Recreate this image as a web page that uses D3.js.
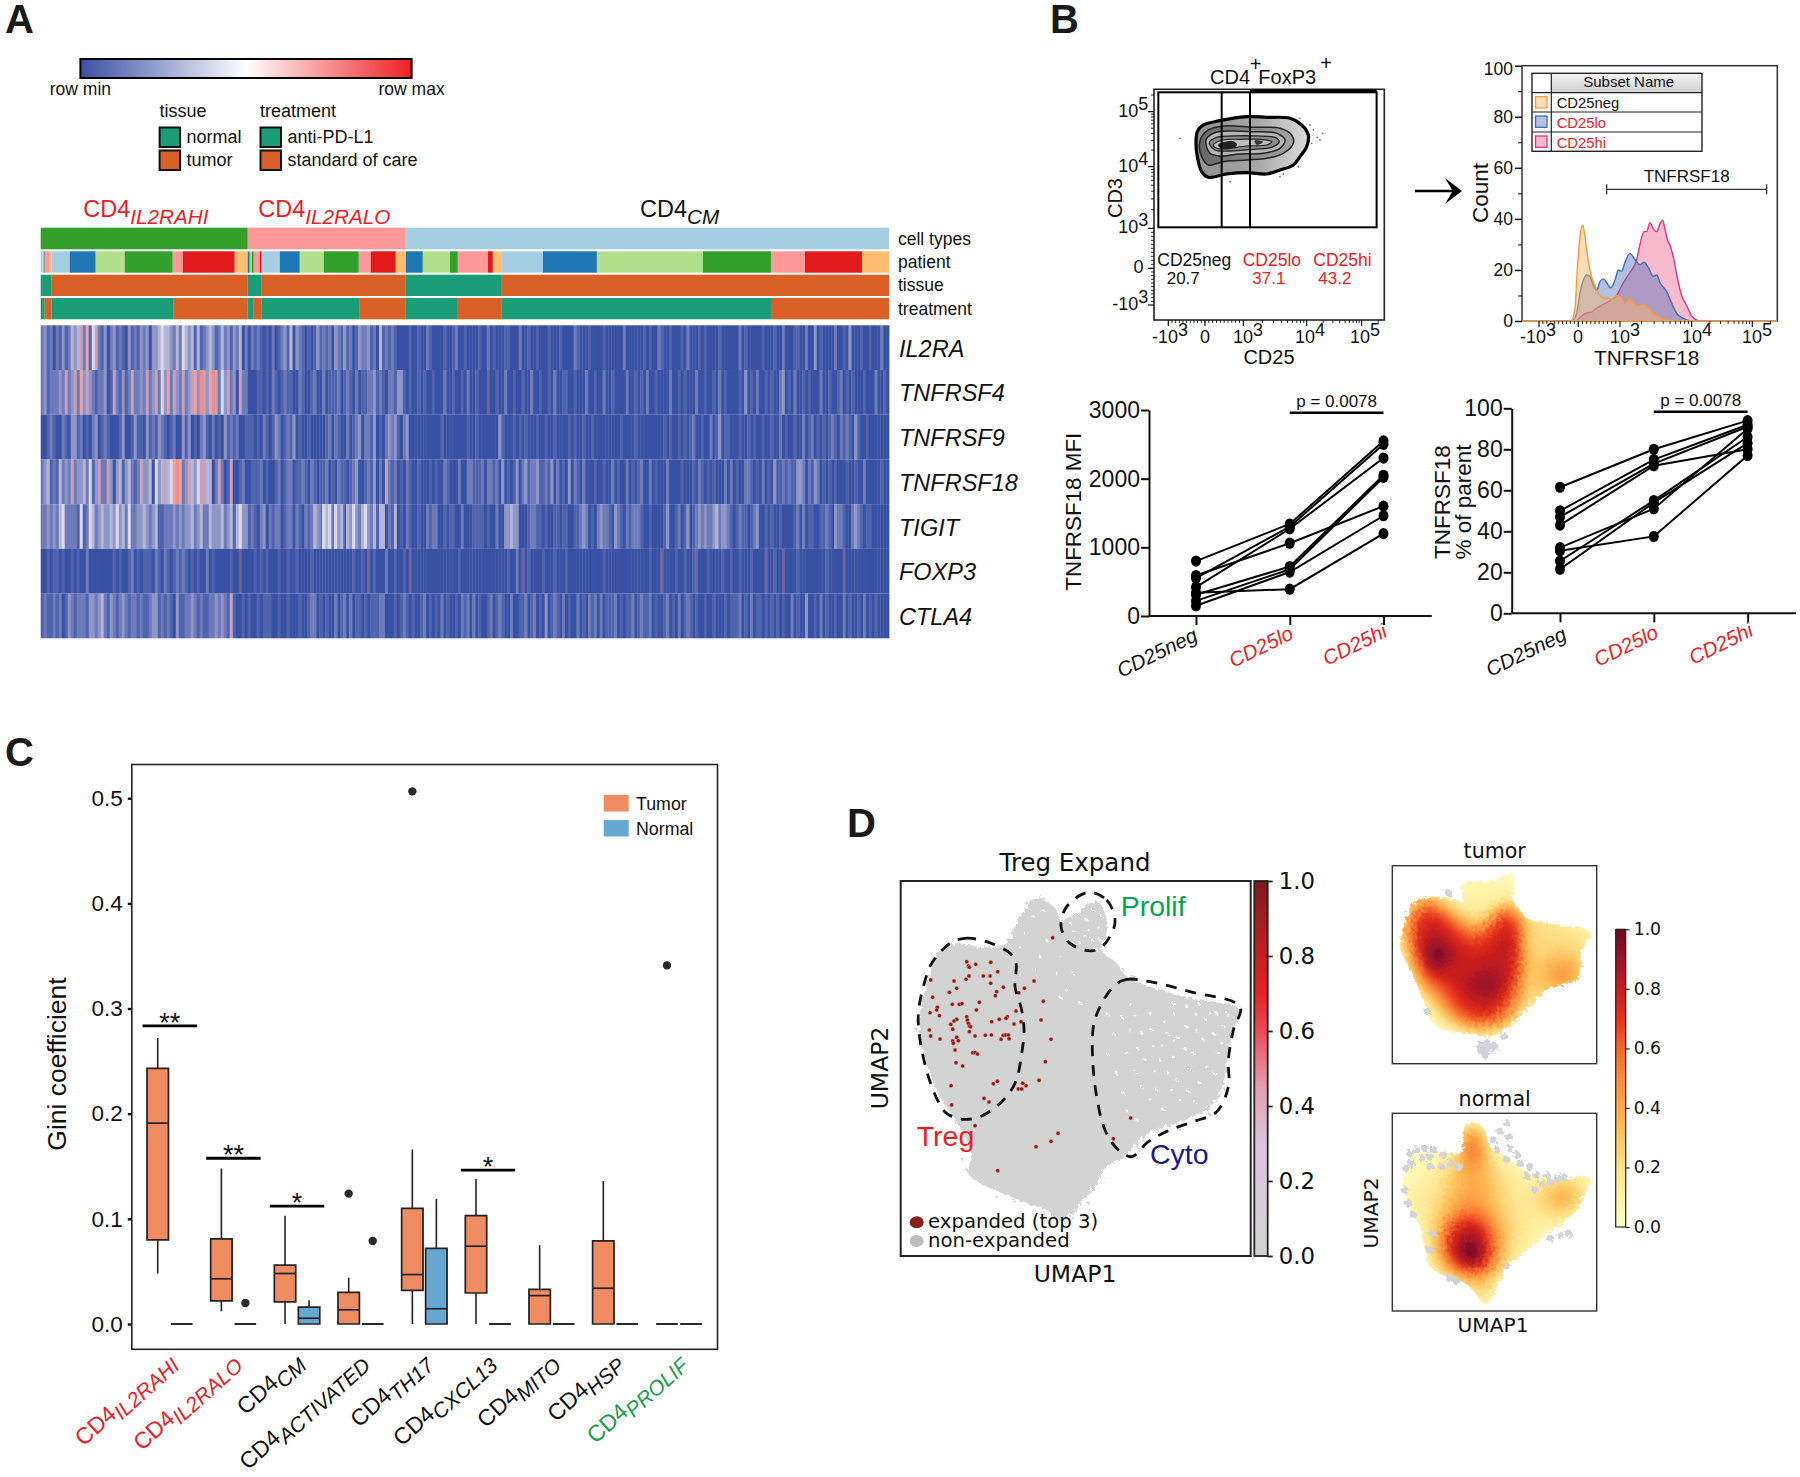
<!DOCTYPE html>
<html><head><meta charset="utf-8">
<script src="https://cdn.jsdelivr.net/npm/d3@7"></script>
<style>html,body{margin:0;background:#fff}text{font-family:"Liberation Sans",Arial,sans-serif;fill:#111}.dj{font-family:"DejaVu Sans",sans-serif}</style>
</head><body><svg id="c" width="1800" height="1477" xmlns="http://www.w3.org/2000/svg"></svg>
<script>
// ---------- Panel A data ----------
const PAIRED={lb:'#a6cee3',bl:'#1f78b4',lg:'#b2df8a',gr:'#33a02c',pk:'#fb9a99',rd:'#e31a1c',or:'#fdbf6f',yg:'#d9d96a'};
const cellTypeNames=['gr','pk','lb'];
const cellTypeCounts=[207,158,483];
const patientNames=['lb','yg','bl','pk','or','lb','bl','lg','gr','pk','rd','or','bl','lg','gr','pk','rd','lb','bl','lg','gr','pk','rd','or','bl','lg','gr','pk','rd','or','lb','bl','lg','gr','pk','rd','or'];
const patientCounts=[2,1,1,5,2,18,26,29,48,10,52,13,2,2,2,6,2,18,20,24,35,12,25,10,17,27,8,30,5,9,41,54,106,68,34,57,27];
const tissueNames=['n','t','n','t','n','t'];
const tissueCounts=[11,196,14,144,96,387];
const treatNames=['n','t','n','t','n','t','n','t','n','t','n','t'];
const treatCounts=[4,7,122,74,6,8,98,46,52,44,269,118];
const genes=['IL2RA','TNFRSF4','TNFRSF9','TNFRSF18','TIGIT','FOXP3','CTLA4'];
const heatHI=[
"231202131243462715621302312103121323033454432425434141234312423132402",
"231222326236273632122301621312622326236253726326236738637862536230622",
"001210021033120102301210001300131103121321012003130102310201031212001",
"234121423262334251362263034134212633405346457872364356644026201600120",
"223232452222151254234334353425223343234112223232334234224333423414533",
"001011010010100200000000101001201011102102101212101010020100000100900",
"121121201321222133234213212321221211233121210311223212112232321610010"];
const heatLO=[
"02121010201231403210101312120321312013223120412121000",
"00011010210121100210012002011120121020112231210221331",
"11010210132012130100100000120210020123022130102323102",
"01112010012012201121021011201021101230012130206212010",
"12102302122012202102124325452534143532453241440214010",
"00101010001001001000010000000000000100109010002001001",
"10010111001001000100122010100201202011010111220001012"];
const heatCM=[
"01001002100001001200100001002010001100020010010001000100002100010000100000020000001010021001000102000101000010000002010000010001002000110020030100002001030001001000200",
"01001010010002001001020010009001002001001002001001020011001000200100200100002001010200100002001010002001001020100001030102001010023010200101000200100120101000100020010",
"30000000000010000000010010000000310001010100010010010000101001001000000000100001000000000101001010120010020130110001001010010010020100100201201010121021210310010000000",
"21001000101002100020022111202212030101302312231121302010302102000100100201002010120020100020000100010210101000202010022101020103112121133202132010101000100100200000100",
"21001002122001011002000111101002003343300012211010011011001123201023221032102122210010000130012013012323223423321012110123001010010000120201100112103221002321011000000",
"09000000000000000010000000000000000100209010000100010001000000000000100000000000000010009000010010019000100001001001000100009001009000010000000001000009000000000000000",
"10100120101020100102120201001201210020011201201030121020100201021202011120101120121120100120102012101001001000101112010201101010101002010030010201001002010010201010000"];
const heatDigitColors=['#3951a3','#5063ad','#6d7bba','#8e96c8','#b2b6d7','#dbdaea','#c8a0ba','#e7a3a8','#f58b82','#6f63a6'];
const colorbarColors=['#3b4fa3','#ffffff','#ee2024'];

// ---------- Panel B data (flow) ----------
const flowTickVals=[-1e3,0,1e3,1e4,1e5];
const flowXChan=[265,375,490,680,845];   // channel of each decade, CD25
const flowYChan=[765,655,535,350,185];   // channel of each decade, CD3
const flowGateRect=[235,890,127,532];
const flowGateLines=[425,510];
const contourOuter=[[352,245],[370,225],[420,212],[500,200],[560,202],[630,205],[665,225],[685,255],[680,290],[660,320],[640,345],[600,360],[560,372],[500,368],[440,372],[385,382],[365,365],[352,320],[348,280]];
const contour2=[[365,260],[385,240],[430,228],[520,232],[600,235],[635,255],[640,280],[610,310],[560,325],[500,330],[430,335],[385,345],[365,320],[358,285]];
const contour3=[[378,270],[400,250],[450,243],[520,245],[590,250],[615,270],[600,295],[550,310],[480,312],[420,318],[390,310]];
const contour4=[[388,278],[410,262],[460,258],[530,258],[585,262],[598,275],[575,292],[520,298],[450,303],[405,300]];
const contour5=[[400,285],[430,270],[480,268],[540,268],[575,275],[560,285],[500,288],[440,296],[410,295]];
const contourCore1=[[415,285],[460,275],[470,285],[450,295],[425,295]];
const contourCore2=[[525,273],[548,276],[530,283]];
const flowStray=[[690,225],[700,240],[712,262],[728,250],[695,280],[720,270],[600,380],[610,372],[450,395],[660,205],[375,658],[655,350],[300,265]];
// histograms: channel, count
const histNeg=[[395,0],[405,5],[412,20],[420,33],[428,37.6],[435,33],[442,26],[450,20],[458,16],[468,13],[480,10],[490,9],[500,9],[515,8.5],[530,10],[545,9],[555,7],[570,9],[580,7],[595,6],[610,6.5],[625,5],[640,3],[660,1.5],[680,.5],[700,0]];
const histLo=[[398,0],[410,3],[420,11],[430,16],[440,18],[450,17.5],[460,14],[470,12],[480,15.5],[490,16.5],[500,15],[512,13],[525,16],[535,20],[545,19.5],[555,23],[570,26.5],[585,24],[600,22],[612,23],[625,21],[640,17.5],[650,18],[660,15],[680,11.5],[695,7],[710,3],[730,1],[750,0]];
const histHi=[[410,0],[425,2],[440,3.2],[455,3.5],[470,5],[490,6.5],[510,8],[530,10],[550,15],[570,19],[590,24],[600,30],[612,35],[620,35],[630,38.5],[640,36],[650,35],[660,38],[668,39.5],[675,36],[682,32],[692,29],[700,25],[712,17],[725,10],[740,6],[755,2],[775,0]];
const histXChan=[297,415,540,755,937];
const subsetNames=['CD25neg','CD25lo','CD25hi'];
const subsetColors=['#f59a3c','#3f6fb5','#e8317e'];
const subsetFills=['rgba(250,180,100,.45)','rgba(85,115,190,.45)','rgba(240,90,135,.42)'];
// paired
const pairCats=['CD25neg','CD25lo','CD25hi'];
const mfiNeg=[800,590,550,420,340,310,220,150];
const mfiLo=[1340,1060,1300,1270,390,720,680,640];
const mfiHi=[2550,1600,2500,2300,1200,2050,2020,1460];
const pctNeg=[61.5,50,47,43,32,30.5,25.5,21.5];
const pctLo=[80,75,73,72,51,37.5,55,54];
const pctHi=[94,92,91,80,90,77,86,83];

// ---------- Panel C data ----------
const boxCats=[['CD4','IL2RAHI','r'],['CD4','IL2RALO','r'],['CD4','CM','k'],['CD4','ACTIVATED','k'],['CD4','TH17','k'],['CD4','CXCL13','k'],['CD4','MITO','k'],['CD4','HSP','k'],['CD4','PROLIF','g']];
const boxGroups=['Tumor','Normal'];
// [lo whisker, q1, median, q3, hi whisker]
const tumorStats=[[.048,.080,.191,.243,.272],[.012,.022,.043,.081,.148],[0,.021,.048,.056,.103],[0,0,.0135,.030,.044],[0,.032,.047,.110,.166],[0,.0295,.074,.103,.138],[0,0,.027,.033,.075],[0,0,.034,.079,.136],[0,0,0,0,0]];
const normalStats=[[0,0,0,0,0],[0,0,0,0,0],[0,0,.0055,.016,.0225],[0,0,0,0,0],[0,0,.0145,.072,.119],[0,0,0,0,0],[0,0,0,0,0],[0,0,0,0,0],[0,0,0,0,0]];
const outliers=[[1,'Normal',.020],[3,'Tumor',.124],[3,'Normal',.079],[4,'Tumor',.5065],[8,'Tumor',.341]];
const sigBars=[[0,.2835,'**'],[1,.1576,'**'],[2,.112,'*'],[5,.1463,'*']];
const giniTicks=[0,.1,.2,.3,.4,.5];

// ---------- Panel D data ----------
const umapCloud=[[585,295],[620,305],[650,330],[665,365],[700,345],[770,305],[795,340],[800,400],[780,445],[830,490],[860,530],[930,560],[1050,595],[1190,620],[1200,635],[1175,700],[1160,800],[1140,880],[1100,930],[1000,970],[930,1000],[880,1040],[850,1070],[790,1110],[770,1150],[730,1200],[690,1245],[660,1260],[620,1230],[560,1210],[490,1180],[420,1150],[385,1120],[395,1070],[370,1000],[340,950],[300,890],[270,820],[250,760],[240,700],[240,640],[255,570],[270,520],[300,450],[350,430],[420,440],[500,430],[530,370]];
const umapGaps=[[870,690],[905,700],[965,735],[960,780],[1000,770],[1050,810],[1090,720],[1110,640],[1040,680],[1000,640],[930,640],[870,610],[1135,760],[1080,850],[1020,900],[950,870],[890,820],[860,760],[930,900],[1060,760],[980,700],[1150,680],[1160,640],[1040,620],[820,700],[800,640],[850,880],[680,570],[650,520],[600,470],[555,400],[740,360],[735,410],[660,590],[720,610],[770,450],[1100,660],[985,820],[1125,820],[915,780],[1010,840],[940,740],
[715,340],[760,330],[775,380],[700,395],[720,430],[755,420],[690,370],[745,390],[785,350],[780,420],[845,650],[885,645],[895,745],[935,690],[945,815],[975,665],[1015,715],[1035,745],[1070,690],[1120,700],[1065,640],[1145,730],[1100,800],[1045,875],[995,870],[905,860],[860,930],[890,960],[970,930],[1000,610],[1075,610],[1130,640],[830,820],[800,760],[1000,720],[1065,905],[580,350],[610,330],[540,440],[620,420],[590,510],[660,470],[700,520]];
const umapStray=[[545,370],[525,395],[560,310],[610,295],[505,420],[815,505],[850,510],[880,530],[1205,630],[1180,660],[1165,760],[1155,870],[1110,945],[1015,985],[900,1050],[870,1065],[800,1135],[745,1210],[700,1255],[640,1250],[520,1200],[470,1190],[380,1110],[365,1075],[230,690],[235,665],[245,600],[290,900],[345,965]];
const umapExpanded=[[638,413],[380,485],[407,493],[452,487],[385,498],[388,502],[473,515],[272,540],[342,543],[387,528],[378,538],[430,528],[450,528],[582,543],[452,550],[350,565],[490,562],[553,565],[536,578],[328,577],[470,575],[466,587],[278,592],[610,604],[418,607],[337,613],[358,613],[366,611],[292,622],[290,630],[409,630],[270,638],[298,647],[528,633],[502,650],[498,655],[380,650],[382,660],[350,658],[342,663],[478,658],[455,665],[603,660],[543,665],[522,672],[332,673],[338,688],[385,670],[388,678],[392,680],[388,695],[268,690],[272,708],[300,717],[350,712],[338,723],[355,722],[340,730],[405,708],[436,706],[454,705],[490,706],[497,705],[505,705],[483,718],[507,716],[633,718],[345,750],[398,758],[405,758],[412,762],[348,788],[368,798],[616,785],[597,841],[472,844],[460,851],[548,850],[558,857],[535,867],[545,867],[333,857],[432,895],[447,906],[335,915],[405,977],[872,954],[654,1000],[633,1024],[588,1040],[820,1016],[473,1112]];
const tregOutline=[[330,430],[375,415],[440,425],[510,460],[528,490],[525,560],[545,630],[552,690],[545,760],[525,850],[480,910],[420,950],[370,958],[320,940],[295,905],[265,830],[240,720],[235,640],[250,560],[275,490]];
const prolifOutline=[[745,277],[800,300],[825,360],[815,400],[780,445],[745,452],[690,430],[663,380],[680,320]];
const cytoOutline=[[825,555],[860,538],[930,545],[1050,575],[1200,620],[1180,690],[1165,780],[1165,860],[1130,935],[1060,965],[990,990],[925,1025],[875,1070],[835,1050],[795,990],[770,890],[758,780],[760,680],[780,620]];
const expandColors=[[0,'#d3d3d3'],[.15,'#d6cdd8'],[.3,'#dbc4dc'],[.45,'#e59fb0'],[.6,'#ec4a57'],[.7,'#ea2028'],[.85,'#b21f24'],[1,'#7e1a1f']];
const densColors=[[0,'#ffffc8'],[.1,'#fff3a8'],[.2,'#fee28b'],[.3,'#fec762'],[.4,'#fdab49'],[.5,'#fb8c3c'],[.6,'#f5682c'],[.7,'#e7301f'],[.8,'#c41d1f'],[.9,'#99142a'],[1,'#680b22']];
const colorTicks=[0,.2,.4,.6,.8,1];
const tumorShape=[[340,190],[420,185],[490,160],[490,240],[510,270],[530,295],[600,310],[720,335],[720,355],[695,385],[695,440],[680,480],[600,505],[570,530],[530,570],[490,610],[460,630],[420,650],[350,640],[280,630],[240,600],[230,570],[215,530],[195,480],[170,430],[150,380],[165,300],[190,250],[240,230],[290,235],[335,240]];
const tumorGrayDots=[[390,675],[405,672],[422,672],[434,680],[405,690],[392,690],[415,688],[405,705],[295,220],[232,575],[462,648]];
const normalShape=[[345,915],[375,905],[405,930],[420,980],[470,1010],[520,1050],[600,1080],[720,1075],[700,1130],[680,1170],[640,1210],[590,1240],[560,1270],[520,1300],[470,1340],[445,1390],[425,1440],[405,1455],[385,1430],[345,1390],[290,1370],[240,1340],[225,1290],[210,1220],[180,1170],[160,1110],[170,1050],[190,1000],[250,990],[330,1000],[340,960]];
const normalGrayDots=[[180,1000],[200,990],[225,985],[250,990],[240,1010],[215,1015],[185,1030],[170,1045],[280,1005],[300,1030],[275,1040],[240,1040],[325,1040],[165,1110],[175,1150],[190,1185],[470,910],[450,935],[430,960],[475,950],[440,990],[480,985],[500,1005],[470,1020],[510,1030],[540,1040],[530,1070],[560,1065],[575,1090],[555,1110],[600,1085],[625,1075],[590,1065],[640,1070],[655,1240],[630,1245],[600,1255],[250,1240],[240,1290],[300,1375],[320,1385],[470,1340]];
const tumorDensity=[
[0,0,0,0,0,0,0,0,0,0,0,0,0,0,0,0,0,0,0],
[0,0,0,0,0,0,5,8,8,8,8,0,0,0,0,0,0,0,0],
[0,0,0,5,5,5,8,10,10,10,10,5,0,0,0,0,0,0,0],
[0,0,25,40,30,15,12,12,12,12,15,15,5,0,0,0,0,0,0],
[0,20,50,65,60,40,20,15,15,35,55,35,10,5,0,0,0,0,0],
[0,30,65,75,75,65,45,30,35,60,72,60,25,20,18,15,12,10,0],
[5,35,68,80,82,75,65,55,60,72,78,70,30,22,22,20,18,14,8],
[5,30,68,85,90,82,75,70,72,78,82,72,30,25,25,24,22,18,0],
[0,22,62,88,100,90,80,78,78,80,82,72,32,25,28,30,28,20,0],
[0,15,50,82,92,85,80,80,82,84,82,70,35,30,38,42,38,22,0],
[0,8,35,65,78,80,80,85,88,88,82,65,32,32,42,48,40,20,0],
[0,0,20,45,62,72,80,88,92,90,80,58,30,30,35,38,28,8,0],
[0,0,8,25,45,65,75,82,85,82,72,50,25,22,22,20,8,0,0],
[0,0,0,10,28,52,68,75,78,75,62,35,18,12,8,0,0,0,0],
[0,0,0,5,15,30,50,62,65,60,45,22,8,0,0,0,0,0,0],
[0,0,0,0,5,10,20,30,32,28,18,8,0,0,0,0,0,0,0],
[0,0,0,0,0,0,3,5,5,5,3,0,0,0,0,0,0,0,0],
[0,0,0,0,0,0,0,0,0,0,0,0,0,0,0,0,0,0,0],
[0,0,0,0,0,0,0,0,0,0,0,0,0,0,0,0,0,0,0]];
const normalDensity=[
[0,0,0,0,0,0,0,0,0,0,0,0,0,0,0,0,0,0,0],
[0,0,0,0,0,0,8,22,12,4,0,0,0,0,0,0,0,0,0],
[0,0,0,0,0,2,30,46,32,8,2,0,0,0,0,0,0,0,0],
[0,0,0,2,4,8,36,56,40,12,6,2,0,0,0,0,0,0,0],
[0,0,4,8,10,14,38,54,42,18,10,6,2,0,0,0,0,0,0],
[0,4,8,10,14,22,36,46,38,24,14,10,8,6,6,4,2,0,0],
[0,6,10,12,18,28,36,42,38,28,20,14,12,14,18,22,20,14,5],
[0,8,12,14,20,30,38,42,40,30,22,16,16,22,30,36,30,16,0],
[0,8,14,18,24,34,44,46,42,32,24,18,18,24,32,38,30,14,0],
[0,4,12,18,26,40,54,58,52,38,26,20,18,20,24,26,18,4,0],
[0,0,8,18,32,56,72,76,66,46,30,20,16,14,14,10,4,0,0],
[0,0,4,16,38,68,82,86,78,54,32,20,14,10,8,2,0,0,0],
[0,0,0,14,40,72,90,98,84,58,32,18,12,6,2,0,0,0,0],
[0,0,0,12,34,66,88,100,84,54,28,14,6,2,0,0,0,0,0],
[0,0,0,8,24,46,70,78,68,44,20,8,2,0,0,0,0,0,0],
[0,0,0,0,10,20,34,42,40,24,10,3,0,0,0,0,0,0,0],
[0,0,0,0,0,4,12,22,26,14,4,0,0,0,0,0,0,0,0],
[0,0,0,0,0,0,4,12,16,8,0,0,0,0,0,0,0,0,0],
[0,0,0,0,0,0,0,0,0,0,0,0,0,0,0,0,0,0,0]];

// ---------- helpers ----------
const RED='#ed1c24';
const svg=d3.select('#c');
const defs=svg.append('defs');
const T=(x,y,s,o={})=>{const t=svg.append('text').attr('x',x).attr('y',y).text(s).style('font-size',(o.size||18)+'px');
 if(o.anchor)t.attr('text-anchor',o.anchor); if(o.fill)t.style('fill',o.fill); if(o.italic)t.style('font-style','italic');
 if(o.weight)t.style('font-weight',o.weight); if(o.cls)t.attr('class',o.cls); if(o.rot!=null)t.attr('transform',`rotate(${o.rot},${x},${y})`); return t;};
function gradient(id,stops,horizontal){const g=defs.append('linearGradient').attr('id',id).attr('x1',0).attr('y1',horizontal?0:1).attr('x2',horizontal?1:0).attr('y2',0);
 stops.forEach(([o,c])=>g.append('stop').attr('offset',o).attr('stop-color',c));}
function styleAxis(g,w,c='#111'){g.selectAll('path,line').attr('stroke',c).attr('stroke-width',w);g.select('.domain').attr('stroke',c);}
function cum(counts){let s=0;return counts.map(c=>{const a=s;s+=c;return [a,s];});}
[['A',5,33],['B',1050,33],['C',5,766],['D',847,837]].forEach(([s,x,y])=>T(x,y,s,{size:40,weight:'bold',fill:'#1a1a1a'}));

// ---------- Panel A ----------
const cellX=d3.scaleLinear().domain([0,d3.sum(cellTypeCounts)]).range([40.7,889]);
gradient('rowgrad',[[0,colorbarColors[0]],[.5,colorbarColors[1]],[1,colorbarColors[2]]],true);
const cbScale=d3.scaleLinear().domain([0,1]).range([80.4,411.6]);
svg.append('rect').attr('x',cbScale(0)).attr('y',59).attr('width',cbScale(1)-cbScale(0)).attr('height',19).attr('fill','url(#rowgrad)').attr('stroke','#000').attr('stroke-width',2);
T(cbScale(0),95,'row min',{anchor:'middle',size:17.5}); T(cbScale(1),95,'row max',{anchor:'middle',size:17.5});
const tisCol={n:'#1b9e77',t:'#d96026'};
T(159.6,117,'tissue',{size:18});T(260,117,'treatment',{size:18});
[['normal',159.6,127.5,'n'],['tumor',159.6,150.5,'t'],['anti-PD-L1',260.5,127.5,'n'],['standard of care',260.5,150.5,'t']].forEach(([s,x,y,k])=>{
 svg.append('rect').attr('x',x).attr('y',y).attr('width',20.5).attr('height',19.5).attr('fill',tisCol[k]).attr('stroke','#111').attr('stroke-width',2);
 T(x+27,y+15,s,{size:18});});
function subLabel(x,y,main,sub,col){const t=svg.append('text').attr('x',x).attr('y',y).style('fill',col).style('font-size','23.5px');
 t.append('tspan').text(main);t.append('tspan').text(sub).attr('dy',7).style('font-size','20.7px').style('font-style','italic');return t;}
subLabel(83.3,217,'CD4','IL2RAHI',RED);subLabel(258.3,217,'CD4','IL2RALO',RED);subLabel(640,217,'CD4','CM','#111');
function annoBar(y0,y1,names,counts,colorFn){const sp=cum(counts);
 svg.append('g').selectAll('rect').data(sp).join('rect').attr('x',d=>cellX(d[0])).attr('width',d=>Math.max(.5,cellX(d[1])-cellX(d[0]))).attr('y',y0).attr('height',y1-y0).attr('fill',(d,i)=>colorFn(names[i]));}
annoBar(227.7,249.3,cellTypeNames,cellTypeCounts,k=>PAIRED[k]);
annoBar(251.3,272.7,patientNames,patientCounts,k=>PAIRED[k]);
annoBar(274.7,296,tissueNames,tissueCounts,k=>tisCol[k]);
annoBar(298,319.3,treatNames,treatCounts,k=>tisCol[k]);
[['cell types',244.5],['patient',267.5],['tissue',291],['treatment',314.5]].forEach(([s,y])=>T(898,y,s,{size:17.5}));
// heatmap
const rowY=d3.scaleBand().domain(genes).range([325.3,638.3]);
const segs=cum(cellTypeCounts);
const heatG=svg.append('g');
[heatHI,heatLO,heatCM].forEach((rows,si)=>{
 rows.forEach((str,ri)=>{
  const len=str.length, inner=d3.scaleLinear().domain([0,len]).range([cellX(segs[si][0]),cellX(segs[si][1])]);
  heatG.selectAll(null).data(str.split('')).join('rect')
   .attr('x',(d,i)=>inner(i)).attr('y',rowY(genes[ri])).attr('width',(d,i)=>inner(i+1)-inner(i)+.4).attr('height',rowY.bandwidth())
   .attr('fill',d=>heatDigitColors[+d]);
 });
});
genes.forEach(g=>T(899,rowY(g)+rowY.bandwidth()/2+9,g,{size:23.5,italic:true}));

// ---------- Panel B flow ----------
const fx=d3.scaleLinear().domain([222,913]).range([1154,1384.3]);
const fy=d3.scaleLinear().domain([118,810]).range([89.3,320]);
function biex(chan){const lg=d3.scaleLog().domain([1e3,1e4,1e5]).range(chan.slice(2));const lin=d3.scaleLinear().domain([-1e3,0,1e3]).range(chan.slice(0,3));
 const neg=d3.scaleLog().domain([1e3,1e4]).range([chan[0],chan[0]-(chan[3]-chan[2])]);
 return v=>v>=1e3?lg(v):v>=-1e3?lin(v):neg(-v);}
const minorVals=[...d3.range(-900,901,100),...d3.range(2e3,1e4,1e3),...d3.range(2e4,1e5,1e4),...d3.range(2e5,3e5,1e5),...d3.range(-3e3,-1e3,1e3)];
function flowTicks(map,ch,axisPos,horizontal,lo,hi,sign){
 const g=svg.append('g').attr('stroke','#111');
 flowTickVals.forEach(v=>{const p=ch(map(v));
  if(horizontal)g.append('line').attr('x1',p).attr('x2',p).attr('y1',axisPos).attr('y2',axisPos+sign*6).attr('stroke-width',1.2);
  else g.append('line').attr('y1',p).attr('y2',p).attr('x1',axisPos).attr('x2',axisPos+sign*6).attr('stroke-width',1.2);});
 minorVals.forEach(v=>{const p=ch(map(v)); if(p<lo||p>hi)return;
  if(horizontal)g.append('line').attr('x1',p).attr('x2',p).attr('y1',axisPos).attr('y2',axisPos+sign*3).attr('stroke-width',.9);
  else g.append('line').attr('y1',p).attr('y2',p).attr('x1',axisPos).attr('x2',axisPos+sign*3).attr('stroke-width',.9);});
}
function pow10Label(x,y,neg,exp,anchor,size=18){const t=svg.append('text').attr('x',x).attr('y',y).attr('text-anchor',anchor).style('font-size',size+'px').style('fill','#111');
 t.append('tspan').text((neg?'-':'')+'10');t.append('tspan').text(exp).attr('dy',-7);return t;}
svg.append('rect').attr('x',fx(222)).attr('y',fy(118)).attr('width',fx(913)-fx(222)).attr('height',fy(810)-fy(118)).attr('fill','#fff').attr('stroke','#222').attr('stroke-width',1.6);
flowTicks(biex(flowXChan),fx,fy(810),true,fx(222),fx(913),1);
flowTicks(biex(flowYChan),fy,fx(222),false,fy(118),fy(810),-1);
const closed=(sx,sy)=>d3.line().x(d=>sx(d[0])).y(d=>sy(d[1])).curve(d3.curveCatmullRomClosed);
const flowLine=closed(fx,fy);
gradient('zebra1',[[0,'#8f8f8f'],[.55,'#a8a8a8'],[1,'#dcdcdc']],true);
gradient('zebra2',[[0,'#666666'],[1,'#a4a4a4']],true);
[[contourOuter,'url(#zebra1)','#000',3.2],[contour2,'url(#zebra2)','#222',1.5],[contour3,'#b5b5b5','#222',1.5],[contour4,'#8a8a8a','#222',1.3],[contour5,'#bdbdbd','#222',1.2],[contourCore1,'#222','#222',1],[contourCore2,'#333','#333',1]]
 .forEach(([c,f,s,w])=>svg.append('path').attr('d',flowLine(c)).attr('fill',f).attr('stroke',s).attr('stroke-width',w));
svg.append('g').selectAll('circle').data(flowStray).join('circle').attr('cx',d=>fx(d[0])).attr('cy',d=>fy(d[1])).attr('r',.9).attr('fill','#777');
// gate
svg.append('rect').attr('x',fx(flowGateRect[0])).attr('y',fy(flowGateRect[2])).attr('width',fx(flowGateRect[1])-fx(flowGateRect[0])).attr('height',fy(flowGateRect[3])-fy(flowGateRect[2])).attr('fill','none').attr('stroke','#000').attr('stroke-width',2);
svg.append('line').attr('x1',fx(510)).attr('x2',fx(890)).attr('y1',fy(122)).attr('y2',fy(122)).attr('stroke','#000').attr('stroke-width',3);
flowGateLines.forEach(v=>svg.append('line').attr('x1',fx(v)).attr('x2',fx(v)).attr('y1',fy(flowGateRect[2])).attr('y2',fy(flowGateRect[3])).attr('stroke','#000').attr('stroke-width',2));
// flow labels
T(1210,83.5,'CD4',{size:20});T(1258.3,83.5,'FoxP3',{size:20});T(1255.7,70.5,'+',{size:20,anchor:'middle'});T(1326,70,'+',{size:20,anchor:'middle'});
pow10Label(1148.3,116.7,false,'5','end');pow10Label(1148.3,171.7,false,'4','end');pow10Label(1148.3,233,false,'3','end');T(1143.5,273,'0',{size:18,anchor:'end'});pow10Label(1148.3,310,true,'3','end');
pow10Label(1170,342.7,true,'3','middle');T(1205,342.7,'0',{size:18,anchor:'middle'});pow10Label(1248,342.7,false,'3','middle');pow10Label(1310,342.7,false,'4','middle');pow10Label(1365,342.7,false,'5','middle');
T(1269,364,'CD25',{size:20,anchor:'middle'});T(1121.7,198,'CD3',{size:20,anchor:'middle',rot:-90});
T(1157.3,266,'CD25neg',{size:17.5});T(1166.7,284.3,'20.7',{size:17});
T(1242.7,266,'CD25lo',{size:17.5,fill:RED});T(1252.3,284.3,'37.1',{size:17,fill:RED});
T(1313.3,266,'CD25hi',{size:17.5,fill:RED});T(1318.3,284.3,'43.2',{size:17,fill:RED});
// arrow
svg.append('path').attr('d','M1415,189.7H1452L1445,178L1462,191L1445,204L1452,192.3H1415Z').attr('fill','#000');
// histogram
const hx=d3.scaleLinear().domain([246,1012]).range([1522,1777.3]);
const hy=d3.scaleLinear().domain([0,100]).range([321,65.7]);
svg.append('rect').attr('x',hx(246)).attr('y',hy(100)).attr('width',hx(1012)-hx(246)).attr('height',hy(0)-hy(100)).attr('fill','#fff').attr('stroke','#333').attr('stroke-width',1.5);
const hArea=d3.area().x(d=>hx(d[0])).y0(hy(0)).y1(d=>hy(d[1])).curve(d3.curveMonotoneX);
[[histHi,2],[histLo,1],[histNeg,0]].forEach(([h,i])=>{svg.append('path').attr('d',hArea(h)).attr('fill',subsetFills[i]);
 svg.append('path').attr('d',hArea.lineY1()(h)).attr('fill','none').attr('stroke',subsetColors[i]).attr('stroke-width',1.4);});
svg.append('line').attr('x1',hx(246)).attr('x2',hx(1012)).attr('y1',hy(0)).attr('y2',hy(0)).attr('stroke','#f2a65a').attr('stroke-width',1.5);
const hMajor=svg.append('g').attr('transform',`translate(${hx(246)},0)`).call(d3.axisLeft(hy).tickValues([0,20,40,60,80,100]).tickSize(7).tickPadding(2));
hMajor.select('.domain').remove();hMajor.selectAll('line').attr('stroke','#111').attr('stroke-width',1.5);hMajor.selectAll('text').style('font-size','17.5px').style('font-family','"Liberation Sans"');
hMajor.selectAll('text').filter(d=>d===100).attr('y',3);
const hMinor=svg.append('g').attr('transform',`translate(${hx(246)},0)`).call(d3.axisLeft(hy).tickValues([10,30,50,70,90]).tickSize(4).tickFormat(''));
hMinor.select('.domain').remove();hMinor.selectAll('line').attr('stroke','#111');
flowTicks(biex(histXChan),hx,hy(0),true,hx(246),hx(1012),1);
pow10Label(1538,343.3,true,'3','middle');T(1578,343.3,'0',{size:18,anchor:'middle'});pow10Label(1625,343.3,false,'3','middle');pow10Label(1697,343.3,false,'4','middle');pow10Label(1757,343.3,false,'5','middle');
T(1646.7,365,'TNFRSF18',{size:20.8,anchor:'middle'});T(1488,193,'Count',{size:22.5,anchor:'middle',rot:-90});
// subset table
gradient('hdr',[[0,'#cfcfcf'],[1,'#f4f4f4']],false);
const tb={x0:1532,x1:1551.3,x2:1702,ys:[73.3,92.7,112,132,151.3]};
svg.append('rect').attr('x',tb.x1).attr('y',tb.ys[0]).attr('width',tb.x2-tb.x1).attr('height',tb.ys[1]-tb.ys[0]).attr('fill','url(#hdr)');
svg.append('rect').attr('x',tb.x0).attr('y',tb.ys[0]).attr('width',tb.x2-tb.x0).attr('height',tb.ys[4]-tb.ys[0]).attr('fill','none').attr('stroke','#222').attr('stroke-width',1.4);
tb.ys.slice(1,4).forEach(y=>svg.append('line').attr('x1',tb.x0).attr('x2',tb.x2).attr('y1',y).attr('y2',y).attr('stroke','#222').attr('stroke-width',1.2));
svg.append('line').attr('x1',tb.x1).attr('x2',tb.x1).attr('y1',tb.ys[0]).attr('y2',tb.ys[4]).attr('stroke','#222').attr('stroke-width',1.2);
T(1628.7,87.3,'Subset Name',{size:15,anchor:'middle'});
subsetNames.forEach((n,i)=>{const y=tb.ys[i+1];
 svg.append('rect').attr('x',1535.5).attr('y',y+4).attr('width',11.5).attr('height',11.3).attr('fill',subsetFills[i]).attr('stroke',subsetColors[i]).attr('stroke-width',1.3);
 T(1556.7,y+15.5,n,{size:14.8,fill:i?RED:'#111'});});
const gy=189.3;svg.append('path').attr('d',`M${hx(500)},${gy-5}V${gy+5}M${hx(500)},${gy}H${hx(980)}M${hx(980)},${gy-5}V${gy+5}`).attr('stroke','#333').attr('stroke-width',1.3).attr('fill','none');
T(1686.7,182.3,'TNFRSF18',{size:17,anchor:'middle'});

// paired plots
function paired(ax,xEnd,cx,yS,ticks,vals,labEnd,labY,pY,pTextY){
 const x=d3.scalePoint().domain(pairCats).range(cx);
 const ga=svg.append('g').attr('transform',`translate(${ax},0)`).call(d3.axisLeft(yS).tickValues(ticks).tickSize(8).tickPadding(1).tickSizeOuter(0).tickFormat(d3.format('d')));
 styleAxis(ga,2);ga.selectAll('text').style('font-size','23px').style('font-family','"Liberation Sans"').style('fill','#111');
 const gb=svg.append('g').attr('transform',`translate(0,${yS(0)})`).call(d3.axisBottom(x).tickSize(9).tickFormat(''));
 gb.select('.domain').attr('d',`M${ax},0H${xEnd}`);styleAxis(gb,2);
 const line=d3.line().x(d=>x(d[0])).y(d=>yS(d[1]));
 vals[0].forEach((_,i)=>{const pts=pairCats.map((c,j)=>[c,vals[j][i]]);
  svg.append('path').attr('d',line(pts)).attr('fill','none').attr('stroke','#000').attr('stroke-width',2);
  svg.append('g').selectAll('ellipse').data(pts).join('ellipse').attr('cx',d=>x(d[0])).attr('cy',d=>yS(d[1])).attr('rx',5).attr('ry',5.6).attr('fill','#000');});
 pairCats.forEach((c,i)=>T(x(c)+labEnd[i],labY[i],c,{size:20.5,italic:true,anchor:'end',fill:i?RED:'#111',rot:-26}));
 svg.append('line').attr('x1',x('CD25lo')).attr('x2',x('CD25hi')).attr('y1',pY).attr('y2',pY).attr('stroke','#000').attr('stroke-width',2.4);
 T((x('CD25lo')+x('CD25hi'))/2,pTextY,'p = 0.0078',{size:17,anchor:'middle'});
}
paired(1149,1431.8,[1196,1383.5],d3.scaleLinear().domain([0,3000]).range([616,410]),[0,1000,2000,3000],[mfiNeg,mfiLo,mfiHi],[3,5,5],[640,638,636],412.7,406.7);
paired(1511.7,1796,[1560,1747.6],d3.scaleLinear().domain([0,100]).range([613.3,408.3]),[0,20,40,60,80,100],[pctNeg,pctLo,pctHi],[8,6,7],[639,637,635],411.7,406);
T(1081,511.7,'TNFRSF18 MFI',{size:22.4,anchor:'middle',rot:-90});
T(1449.5,502,'TNFRSF18',{size:22.5,anchor:'middle',rot:-90});T(1470.5,502,'% of parent',{size:22.5,anchor:'middle',rot:-90});

// ---------- Panel C ----------
const bx0=137.9,bx1=710.8;
const bX=d3.scaleBand().domain(boxCats.map((d,i)=>i)).range([bx0,bx1]);
const bIn=d3.scaleBand().domain(boxGroups).range([0,bX.bandwidth()]).paddingInner(.108).paddingOuter(.38);
const gY=d3.scaleLinear().domain([0,.5]).range([1324,798.2]);
svg.append('rect').attr('x',131.8).attr('y',764.5).attr('width',585.7).attr('height',584.8).attr('fill','none').attr('stroke','#222').attr('stroke-width',1.6);
const gAx=svg.append('g').attr('transform','translate(131.8,0)').call(d3.axisLeft(gY).tickValues(giniTicks).tickSize(4).tickPadding(5).tickFormat(d3.format('.1f')));
gAx.select('.domain').remove();gAx.selectAll('line').attr('stroke','#111').attr('stroke-width',2.4);gAx.selectAll('text').style('font-size','22.5px').style('font-family','"Liberation Sans"').style('fill','#111');
T(66,1064,'Gini coefficient',{size:26.5,anchor:'middle',rot:-90});
const bCol={Tumor:'#f08c62',Normal:'#65a9d3'};
[tumorStats,normalStats].forEach((st,k)=>{const grp=boxGroups[k];
 st.forEach((s,i)=>{const x=bX(i)+bIn(grp),w=bIn.bandwidth(),cx=x+w/2;
  const g=svg.append('g');
  g.append('line').attr('x1',cx).attr('x2',cx).attr('y1',gY(s[0])).attr('y2',gY(s[4])).attr('stroke','#222').attr('stroke-width',1.6);
  g.append('path').attr('d',`M${x},${gY(s[1])}H${x+w}V${gY(s[3])}H${x}Z`).attr('fill',bCol[grp]).attr('stroke','#222').attr('stroke-width',1.7);
  g.append('line').attr('x1',x).attr('x2',x+w).attr('y1',gY(s[2])).attr('y2',gY(s[2])).attr('stroke','#222').attr('stroke-width',1.7);
 });});
svg.append('g').selectAll('circle').data(outliers).join('circle').attr('cx',d=>bX(d[0])+bIn(d[1])+bIn.bandwidth()/2).attr('cy',d=>gY(d[2])).attr('r',4.2).attr('fill','#2a2a2a');
sigBars.forEach(([i,v,s])=>{const c=bX(i)+bX.bandwidth()/2;
 svg.append('line').attr('x1',c-27.2).attr('x2',c+27.2).attr('y1',gY(v)).attr('y2',gY(v)).attr('stroke','#000').attr('stroke-width',2.8);
 T(c,gY(v)+6,s,{size:27,anchor:'middle'});});
boxGroups.forEach((g,i)=>{const y=i?820:795;
 svg.append('rect').attr('x',603.7).attr('y',y).attr('width',25).attr('height',16.5).attr('fill',bCol[g]);
 T(636,y+14.5,g,{size:17.8});});
const catCol={r:RED,k:'#111',g:'#1a9e4b'};
boxCats.forEach((c,i)=>{const x=bX(i)+bX.bandwidth()/2+7,y=1363;
 const t=svg.append('text').attr('x',x).attr('y',y).attr('text-anchor','end').attr('transform',`rotate(-42,${x},${y})`).style('font-size','23px').style('fill',catCol[c[2]]);
 t.append('tspan').text(c[0]);t.append('tspan').text(c[1]).attr('dy',6).style('font-size','21px').style('font-style','italic');});

// ---------- Panel D ----------
const uX=d3.scaleLinear().domain([182,1232]).range([900.7,1250.7]);
const uY=d3.scaleLinear().domain([243,1368]).range([881,1256]);
const rough=defs.append('filter').attr('id','rough').attr('x','-5%').attr('y','-5%').attr('width','110%').attr('height','110%');
rough.append('feTurbulence').attr('type','fractalNoise').attr('baseFrequency',.28).attr('numOctaves',2).attr('seed',4).attr('result','n');
rough.append('feDisplacementMap').attr('in','SourceGraphic').attr('in2','n').attr('scale',7);
const blur=defs.append('filter').attr('id','blur').attr('x','-5%').attr('y','-5%').attr('width','110%').attr('height','110%');
blur.append('feGaussianBlur').attr('stdDeviation',3);
const uLin=closed(uX,uY);
svg.append('rect').attr('x',uX(182)).attr('y',uY(243)).attr('width',uX(1232)-uX(182)).attr('height',uY(1368)-uY(243)).attr('fill','#fff').attr('stroke','#222').attr('stroke-width',2);
const ug=svg.append('g').attr('filter','url(#rough)');
ug.append('path').attr('d',uLin(umapCloud)).attr('fill','#d3d3d3');
ug.append('g').selectAll('circle').data(umapGaps).join('circle').attr('cx',d=>uX(d[0])).attr('cy',d=>uY(d[1])).attr('r',1.6).attr('fill','#f4f4f4');
ug.append('g').selectAll('circle').data(umapStray).join('circle').attr('cx',d=>uX(d[0])).attr('cy',d=>uY(d[1])).attr('r',1.4).attr('fill','#d3d3d3');
svg.append('g').selectAll('circle').data(umapExpanded).join('circle').attr('cx',d=>uX(d[0])).attr('cy',d=>uY(d[1])).attr('r',2).attr('fill','#8b1a1a').attr('stroke','rgba(235,170,150,.6)').attr('stroke-width',.8);
const dashC=d3.line().x(d=>uX(d[0])).y(d=>uY(d[1])).curve(d3.curveCatmullRomClosed.alpha(.5));
[tregOutline,prolifOutline,cytoOutline].forEach(o=>svg.append('path').attr('d',dashC(o)).attr('fill','none').attr('stroke','#111').attr('stroke-width',2.8).attr('stroke-dasharray','11 9'));
T(1120.7,916,'Prolif',{size:28.5,fill:'#00a651'});T(916.7,1146,'Treg',{size:28.5,fill:RED});T(1150,1164,'Cyto',{size:28.5,fill:'#1a1a8c'});
svg.append('ellipse').attr('cx',916.7).attr('cy',1222.3).attr('rx',7).attr('ry',6).attr('fill','#8b1a1a');
svg.append('ellipse').attr('cx',916.7).attr('cy',1241).attr('rx',7).attr('ry',6).attr('fill','#bdbdbd');
T(928,1227.7,'expanded (top 3)',{size:19.7,cls:'dj'});T(928,1246.7,'non-expanded',{size:19.7,cls:'dj'});
T(1075,870.7,'Treg Expand',{size:24.5,anchor:'middle',cls:'dj'});T(1075,1281.7,'UMAP1',{size:23.5,anchor:'middle',cls:'dj'});T(888,1068,'UMAP2',{size:23.5,anchor:'middle',cls:'dj',rot:-90});
function colorbar(id,stops,x0,x1,y0,y1,fs,tlen,sw,pad){gradient(id,stops,false);
 const s=d3.scaleLinear().domain([0,1]).range([y1,y0]);
 svg.append('rect').attr('x',x0).attr('y',y0).attr('width',x1-x0).attr('height',y1-y0).attr('fill',`url(#${id})`).attr('stroke','#222').attr('stroke-width',sw);
 const a=svg.append('g').attr('transform',`translate(${x1},0)`).call(d3.axisRight(s).tickValues(colorTicks).tickSize(tlen).tickPadding(pad).tickFormat(d3.format('.1f')));
 a.select('.domain').remove();a.selectAll('line').attr('stroke','#222').attr('stroke-width',sw);a.selectAll('text').style('font-size',fs+'px').style('font-family','"DejaVu Sans"').style('fill','#111');}
colorbar('expbar',expandColors,1254.3,1267.7,881,1256,22.8,5,1.8,6);
// density panels
const dX=d3.scaleLinear().domain([127,740]).range([1392.3,1596.7]);
const dens=d3.scaleLinear().domain(densColors.map(d=>d[0]*100)).range(densColors.map(d=>d[1]));
const thresholds=d3.range(1,101,2);
const stepX=613/18,stepY=33;
function densityPanel(id,grid,yDom,yRange,shape,grayDots,title,tY){
 const dY=d3.scaleLinear().domain(yDom).range(yRange);
 svg.append('rect').attr('x',dX(127)).attr('y',yRange[0]).attr('width',dX(740)-dX(127)).attr('height',yRange[1]-yRange[0]).attr('fill','#fff').attr('stroke','#333').attr('stroke-width',1.4);
 const line=d3.line().x(d=>dX(d[0])).y(d=>dY(d[1])).curve(d3.curveCatmullRomClosed);
 const rg=svg.append('g').attr('filter','url(#rough)');
 defs.append('clipPath').attr('id',id).append('path').attr('d',line(shape));
 const cg=rg.append('g').attr('clip-path',`url(#${id})`).append('g').attr('filter','url(#blur)');
 cg.append('rect').attr('x',dX(127)).attr('y',yRange[0]).attr('width',dX(740)-dX(127)).attr('height',yRange[1]-yRange[0]).attr('fill',dens(0));
 const n=grid[0].length,m=grid.length;
 const path=d3.geoPath(d3.geoTransform({point(x,y){this.stream.point(dX(127+(x-.5)*stepX),dY(yDom[0]+(y-.5)*stepY));}}));
 const conts=d3.contours().size([n,m]).thresholds(thresholds)(grid.flat());
 cg.selectAll('path').data(conts).join('path').attr('d',path).attr('fill',d=>dens(d.value));
 rg.append('g').selectAll('circle').data(grayDots).join('circle').attr('cx',d=>dX(d[0])).attr('cy',d=>dY(d[1])).attr('r',3.6).attr('fill','#d2d3d8');
 T(1494.7,tY,title,{size:20.6,anchor:'middle',cls:'dj'});
}
densityPanel('clipT',tumorDensity,[137,731],[865.7,1063.7],tumorShape,tumorGrayDots,'tumor',857.7);
densityPanel('clipN',normalDensity,[880,1473],[1113.3,1311],normalShape,normalGrayDots,'normal',1106);
T(1378,1213,'UMAP2',{size:20.2,anchor:'middle',cls:'dj',rot:-90});T(1493,1331.7,'UMAP1',{size:20.2,anchor:'middle',cls:'dj'});
colorbar('densbar',densColors,1615.7,1625.7,929.3,1227,17.2,4,1.2,4);
</script></body></html>
